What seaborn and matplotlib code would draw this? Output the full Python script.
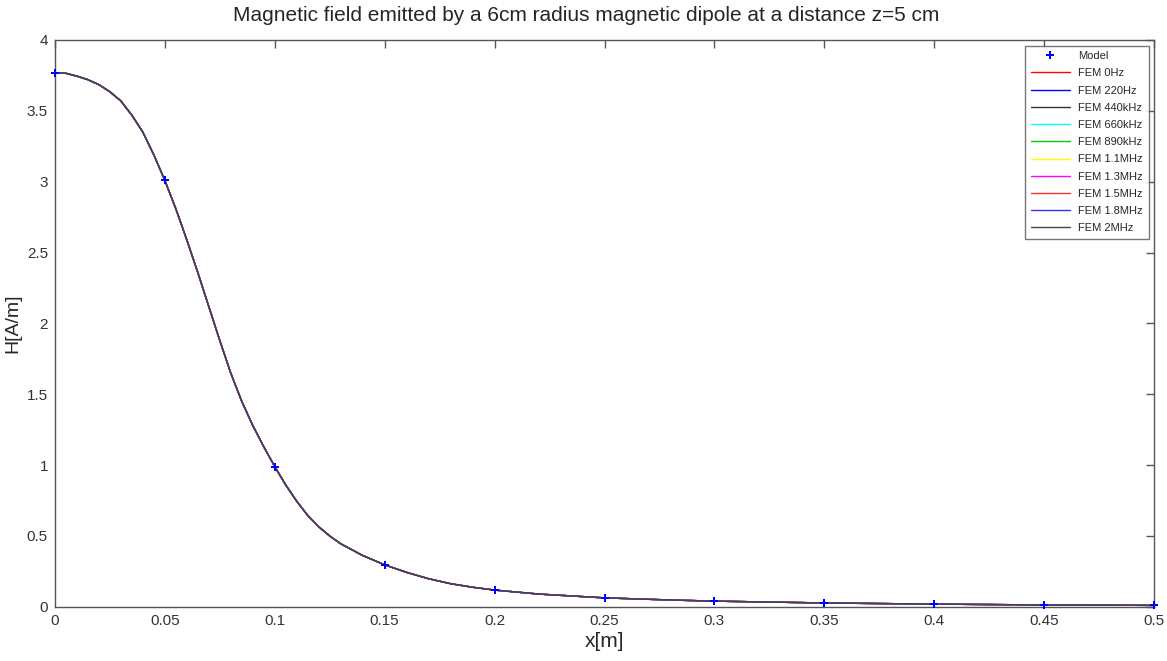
import matplotlib
matplotlib.use("Agg")
import matplotlib.pyplot as plt
import seaborn as sns

# Model points (analytic)
model_x = [0, 0.05, 0.1, 0.15, 0.2, 0.25, 0.3, 0.35, 0.4, 0.45, 0.5]
model_h = [3.77, 3.01, 0.99, 0.296, 0.118, 0.063, 0.04, 0.027, 0.019, 0.013, 0.01]

# FEM curve (all frequencies overlap)
fem_x = [0, 0.005, 0.01, 0.015, 0.02, 0.025, 0.03, 0.035, 0.04, 0.045, 0.05,
         0.055, 0.06, 0.065, 0.07, 0.075, 0.08, 0.085, 0.09, 0.095, 0.1,
         0.105, 0.11, 0.115, 0.12, 0.125, 0.13, 0.14, 0.15, 0.16, 0.17, 0.18, 0.19,
         0.2, 0.22, 0.25, 0.28, 0.3, 0.35, 0.4, 0.45, 0.5]
fem_h = [3.77, 3.765, 3.745, 3.72, 3.685, 3.635, 3.57, 3.47, 3.35, 3.19, 3.01,
         2.81, 2.59, 2.36, 2.12, 1.88, 1.65, 1.45, 1.28, 1.13, 0.99,
         0.86, 0.745, 0.645, 0.565, 0.5, 0.445, 0.362, 0.296, 0.243, 0.198, 0.163, 0.138,
         0.118, 0.09, 0.063, 0.048, 0.040, 0.027, 0.019, 0.013, 0.01]

freq_labels = ["FEM 0Hz", "FEM 220Hz", "FEM 440kHz", "FEM 660kHz", "FEM 890kHz",
               "FEM 1.1MHz", "FEM 1.3MHz", "FEM 1.5MHz", "FEM 1.8MHz", "FEM 2MHz"]
freq_colors = ["#ff0000", "#0000ff", "#333333", "#00ffff", "#00cc00",
               "#ffff00", "#ff00ff", "#ff3030", "#3030ff", "#444444"]

sns.set_style("white")
plt.rcParams['font.family'] = ['Liberation Sans', 'DejaVu Sans']

fig = plt.figure(figsize=(11.67, 6.61), dpi=100)
ax = fig.add_axes([0.047, 0.082, 0.942, 0.8575])

sns.lineplot(x=model_x, y=model_h, ax=ax, color="blue", marker="P", markersize=6,
             linestyle="", markeredgewidth=0, label="Model", zorder=5, clip_on=False)
for lab, col in zip(freq_labels, freq_colors):
    sns.lineplot(x=fem_x, y=fem_h, ax=ax, color=col, linewidth=1.0, label=lab)

ax.set_xlim(0, 0.5)
ax.set_ylim(0, 4)
ax.set_xticks([0, 0.05, 0.1, 0.15, 0.2, 0.25, 0.3, 0.35, 0.4, 0.45, 0.5])
ax.set_xticklabels(["0", "0.05", "0.1", "0.15", "0.2", "0.25", "0.3", "0.35", "0.4", "0.45", "0.5"])
ax.set_yticks([0, 0.5, 1, 1.5, 2, 2.5, 3, 3.5, 4])
ax.set_yticklabels(["0", "0.5", "1", "1.5", "2", "2.5", "3", "3.5", "4"])
ax.tick_params(direction="in", top=True, right=True, length=6, width=1,
               color="#555555", labelsize=11, labelcolor="#333333", pad=5)
for sp in ax.spines.values():
    sp.set_color("#555555")
    sp.set_linewidth(1.0)

ax.set_xlabel("x[m]", fontsize=15, labelpad=3)
ax.set_ylabel("H[A/m]", fontsize=14, labelpad=4)
ax.set_title("Magnetic field emitted by a 6cm radius magnetic dipole at a distance z=5 cm",
             fontsize=15, pad=14, x=0.483)

leg = ax.legend(loc="upper right", fontsize=8, frameon=True, fancybox=False,
                borderaxespad=0.5, handlelength=3.5, labelspacing=0.65,
                borderpad=0.5)
leg.get_frame().set_edgecolor("#555555")
leg.get_frame().set_linewidth(1.0)

fig.savefig("out.png", dpi=100)
